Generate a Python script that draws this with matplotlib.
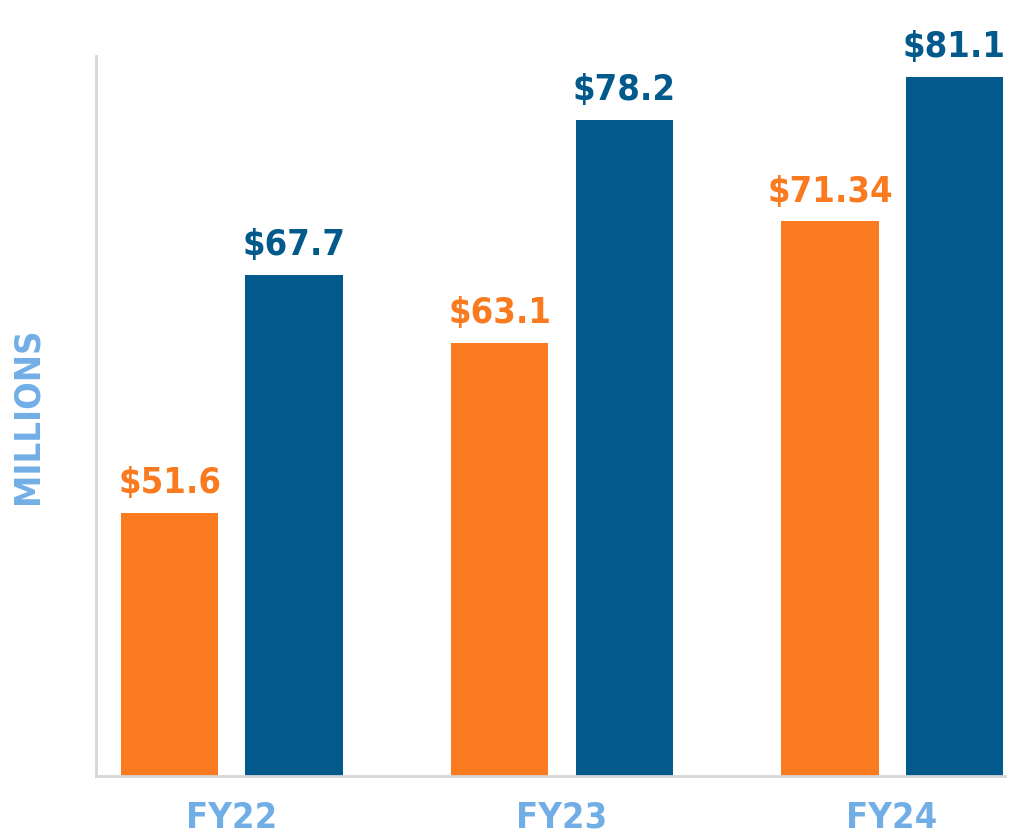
import matplotlib
matplotlib.use("Agg")
import matplotlib.pyplot as plt
import numpy as np

# -------------------------------
# Data
# -------------------------------
years = ["FY22", "FY23", "FY24"]
orange_vals = [51.6, 63.1, 71.34]
blue_vals = [67.7, 78.2, 81.1]
orange_labels = ["$51.6", "$63.1", "$71.34"]
blue_labels = ["$67.7", "$78.2", "$81.1"]

ORANGE = "#F97A1F"
BLUE = "#02598B"
LIGHT_BLUE = "#72AEE6"
SPINE = "#D6D6D6"

font = dict(family="DejaVu Sans", stretch="condensed", weight="bold")

fig = plt.figure(figsize=(10.1, 8.38), dpi=100)
ax = fig.add_axes([0.095, 0.074, 0.9, 0.859])

x = np.arange(len(years))
width = 0.294
offset = 0.188

ax.bar(x - offset, orange_vals, width, color=ORANGE)
ax.bar(x + offset, blue_vals, width, color=BLUE)

# value labels above bars
for xi, v, lab in zip(x - offset, orange_vals, orange_labels):
    ax.annotate(lab, (xi, v), xytext=(0, 9), textcoords="offset points",
                ha="center", va="bottom", color=ORANGE, fontsize=26, **font)
for xi, v, lab in zip(x + offset, blue_vals, blue_labels):
    ax.annotate(lab, (xi, v), xytext=(0, 9), textcoords="offset points",
                ha="center", va="bottom", color=BLUE, fontsize=26, **font)

ax.set_xlim(-0.412, 2.342)
ax.set_ylim(33.8, 82.5)

ax.set_xticks(x)
ax.set_xticklabels(years, color=LIGHT_BLUE, fontsize=26, **font)
ax.tick_params(axis="x", length=0, pad=18)
ax.set_yticks([])

ax.set_ylabel("MILLIONS", color=LIGHT_BLUE, fontsize=26, labelpad=37, **font)

for side in ["top", "right"]:
    ax.spines[side].set_visible(False)
for side in ["left", "bottom"]:
    ax.spines[side].set_color(SPINE)
    ax.spines[side].set_linewidth(2)

plt.savefig("out.png", dpi=100)
plt.close()
